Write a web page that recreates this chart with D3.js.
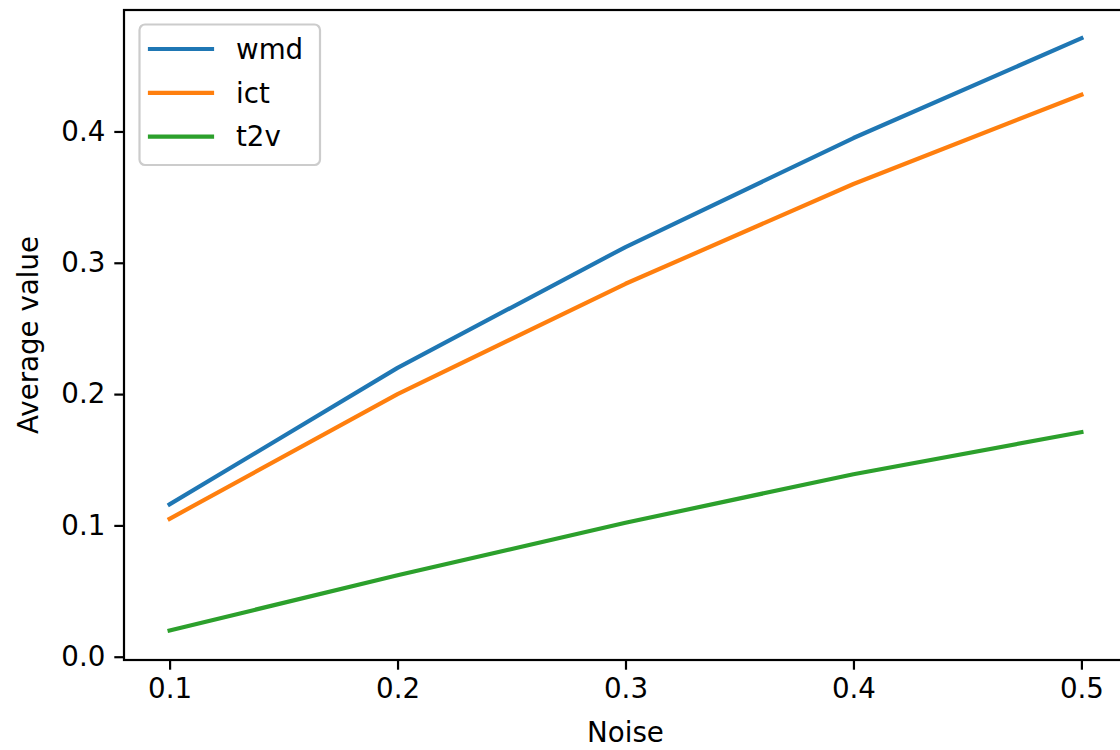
<!DOCTYPE html>
<html>
<head>
<meta charset="utf-8">
<script src="https://cdn.jsdelivr.net/npm/d3@7"></script>
<style>
  html, body { margin: 0; padding: 0; background: #fff; }
  svg { display: block; }
  text { font-family: "DejaVu Sans", sans-serif; fill: #000; }
</style>
</head>
<body>
<svg id="chart" width="1120" height="750"></svg>
<script>
const noise = [0.1, 0.2, 0.3, 0.4, 0.5];
const wmd = [0.116, 0.220, 0.312, 0.395, 0.471];
const ict = [0.105, 0.200, 0.284, 0.360, 0.428];
const t2v = [0.020, 0.062, 0.102, 0.139, 0.171];
const seriesNames = ["wmd", "ict", "t2v"];
const seriesColors = ["#1f77b4", "#ff7f0e", "#2ca02c"];
const xTicks = [0.1, 0.2, 0.3, 0.4, 0.5];
const yTicks = [0.0, 0.1, 0.2, 0.3, 0.4];

const series = [wmd, ict, t2v];
const svg = d3.select("#chart");
const pLeft = 124, pRight = 1127, pTop = 10, pBottom = 660;
const fs = 27.7;

const x = d3.scaleLinear().domain([0.08, 0.52]).range([pLeft, pRight]);
const y = d3.scaleLinear().domain([-0.0025, 0.4925]).range([pBottom, pTop]);

// lines
const line = d3.line().x((d, i) => x(noise[i])).y(d => y(d));
series.forEach((s, k) => {
  svg.append("path").datum(s)
    .attr("d", line)
    .attr("fill", "none")
    .attr("stroke", seriesColors[k])
    .attr("stroke-width", 4.2)
    .attr("stroke-linecap", "square")
    .attr("stroke-linejoin", "round");
});

// axes
const xAxis = d3.axisBottom(x).tickValues(xTicks).tickFormat(d3.format(".1f")).tickSize(9.7).tickPadding(9);
const yAxis = d3.axisLeft(y).tickValues(yTicks).tickFormat(d3.format(".1f")).tickSize(9.7).tickPadding(9);

const gx = svg.append("g").attr("transform", `translate(0,${pBottom})`).call(xAxis);
const gy = svg.append("g").attr("transform", `translate(${pLeft},0)`).call(yAxis);
[gx, gy].forEach(g => {
  g.select(".domain").remove();
  g.selectAll(".tick line").attr("stroke", "#000").attr("stroke-width", 2.2);
  g.selectAll(".tick text").style("font-size", fs + "px").style("font-family", "DejaVu Sans").attr("fill", "#000");
});

// spines
svg.append("rect")
  .attr("x", pLeft).attr("y", pTop)
  .attr("width", pRight - pLeft).attr("height", pBottom - pTop)
  .attr("fill", "none").attr("stroke", "#000").attr("stroke-width", 2.2);

// axis labels
svg.append("text")
  .attr("x", (pLeft + pRight) / 2).attr("y", 742)
  .attr("text-anchor", "middle")
  .style("font-size", fs + "px")
  .text("Noise");
svg.append("text")
  .attr("transform", `translate(38,${(pTop + pBottom) / 2}) rotate(-90)`)
  .attr("text-anchor", "middle")
  .style("font-size", fs + "px")
  .text("Average value");

// legend
const lg = svg.append("g");
lg.append("rect")
  .attr("x", 139.5).attr("y", 24.5).attr("width", 180.5).attr("height", 140.5)
  .attr("rx", 5.5).attr("ry", 5.5)
  .attr("fill", "#fff").attr("fill-opacity", 0.8)
  .attr("stroke", "#cccccc").attr("stroke-width", 2.2);
seriesNames.forEach((name, i) => {
  const ly = 49 + i * 43.8;
  lg.append("line")
    .attr("x1", 150).attr("x2", 212)
    .attr("y1", ly).attr("y2", ly)
    .attr("stroke", seriesColors[i]).attr("stroke-width", 4.2)
    .attr("stroke-linecap", "square");
  lg.append("text")
    .attr("x", 236).attr("y", ly + 9.8)
    .style("font-size", fs + "px")
    .text(name);
});
</script>
</body>
</html>
